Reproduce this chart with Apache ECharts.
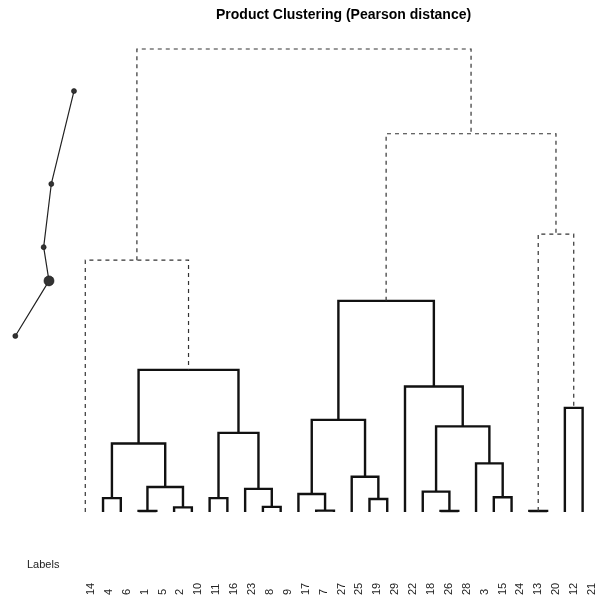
<!DOCTYPE html>
<html>
<head>
<meta charset="utf-8">
<script src="https://cdn.jsdelivr.net/npm/echarts@6/dist/echarts.min.js"></script>
<style>html,body{margin:0;padding:0;background:#fff;}#c{width:601px;height:600px;}</style>
</head>
<body>
<div id="c"></div>
<script>
// Leaf order (as drawn, left to right)
var leafLabels = ['14','4','6','1','5','2','10','11','16','23','8','9','17','7','27','25','19','29','22','18','26','28','3','15','24','13','20','12','21'];
// Merges: children are leaf labels ('L:x') or previous merge ids ('M:n')
var mergeLeft   = ['L:1','L:2','M:1','L:4','M:4','L:11','L:8','L:23','M:6','M:5','L:14','L:7','L:17','L:19','L:25','M:13','L:26','L:18','L:15','L:3','M:18','L:22','M:16','L:13','L:12','M:24','M:23','M:11'];
var mergeRight  = ['L:5','L:10','M:2','L:6','M:3','L:16','L:9','M:7','M:8','M:9','M:10','L:27','M:12','L:29','M:14','M:15','L:28','M:17','L:24','M:19','M:20','M:21','M:22','L:20','L:21','M:25','M:26','M:27'];
var mergeHeight = [0.002,0.010,0.054,0.030,0.148,0.030,0.011,0.050,0.171,0.307,0.544,0.003,0.039,0.028,0.076,0.199,0.002,0.044,0.032,0.105,0.185,0.271,0.456,0.002,0.225,0.600,0.817,1.000];
var cutHeight = 0.5;
// Small side plot (score vs. height)
var miniScore  = [0.914, 0.590, 0.481, 0.557, 0.076];
var miniHeight = [0.959, 0.615, 0.381, 0.256, 0.052];
var miniSelected = 3;

// Build node positions
var nodeX = [], nodeH = [];
function resolve(ref) {
  var t = ref.split(':');
  if (t[0] === 'L') return { x: leafLabels.indexOf(t[1]), h: 0 };
  var k = parseInt(t[1], 10) - 1;
  return { x: nodeX[k], h: nodeH[k] };
}
var mergeData = [];
for (var i = 0; i < mergeHeight.length; i++) {
  var a = resolve(mergeLeft[i]), b = resolve(mergeRight[i]);
  nodeX.push((a.x + b.x) / 2);
  nodeH.push(mergeHeight[i]);
  mergeData.push([a.x, a.h, b.x, b.h, mergeHeight[i]]);
}

var chart = echarts.init(document.getElementById('c'), null, { renderer: 'canvas' });
var miniData = miniScore.map(function (s, i) {
  return { value: [s, miniHeight[i]], symbolSize: i === miniSelected ? 10 : 5 };
});

chart.setOption({
  backgroundColor: '#ffffff',
  animation: false,
  title: {
    text: 'Product Clustering (Pearson distance)',
    left: 211, top: 3,
    textStyle: { fontFamily: 'Liberation Sans, Arial, sans-serif', fontSize: 14, fontWeight: 'bold', color: '#000' }
  },
  graphic: [{
    type: 'text', left: 27, top: 559,
    style: { text: 'Labels', fontFamily: 'Liberation Sans, Arial, sans-serif', fontSize: 11, fill: '#222' }
  }],
  grid: [
    { left: 76.4, right: 9.5, top: 49, bottom: 88 },
    { left: 82, right: -2, top: 49, bottom: 88 },
    { left: 10, width: 70, top: 80, height: 270 }
  ],
  xAxis: [
    { type: 'value', gridIndex: 0, min: -0.5, max: 28.5, show: false },
    { type: 'category', gridIndex: 1, data: leafLabels, boundaryGap: true,
      axisLine: { show: false }, axisTick: { show: false }, splitLine: { show: false },
      axisLabel: { rotate: 90, interval: 0, margin: 83, align: 'left', verticalAlign: 'middle',
        fontFamily: 'Liberation Sans, Arial, sans-serif', fontSize: 11, color: '#222' } },
    { type: 'value', gridIndex: 2, min: 0, max: 1, show: false }
  ],
  yAxis: [
    { type: 'value', gridIndex: 0, min: 0, max: 1, show: false },
    { type: 'value', gridIndex: 1, min: 0, max: 1, show: false },
    { type: 'value', gridIndex: 2, min: 0, max: 1, show: false }
  ],
  series: [
    {
      type: 'custom', xAxisIndex: 0, yAxisIndex: 0,
      data: mergeData,
      renderItem: function (params, api) {
        var xl = api.value(0), hl = api.value(1), xr = api.value(2), hr = api.value(3), h = api.value(4);
        var p1 = api.coord([xl, hl]), p2 = api.coord([xl, h]), p3 = api.coord([xr, h]), p4 = api.coord([xr, hr]);
        var dashed = h > cutHeight;
        return {
          type: 'polyline',
          shape: { points: [p1, p2, p3, p4] },
          style: dashed
            ? { stroke: '#333', lineWidth: 1.2, lineDash: [4, 4], fill: null }
            : { stroke: '#111', lineWidth: 2.4, fill: null, lineJoin: 'miter' }
        };
      },
      z: 2
    },
    {
      type: 'line', xAxisIndex: 2, yAxisIndex: 2,
      data: miniData,
      symbol: 'circle',
      lineStyle: { color: '#222', width: 1.2 },
      itemStyle: { color: '#333', borderColor: '#111', borderWidth: 0.6 },
      silent: true
    }
  ]
});
</script>
</body>
</html>
